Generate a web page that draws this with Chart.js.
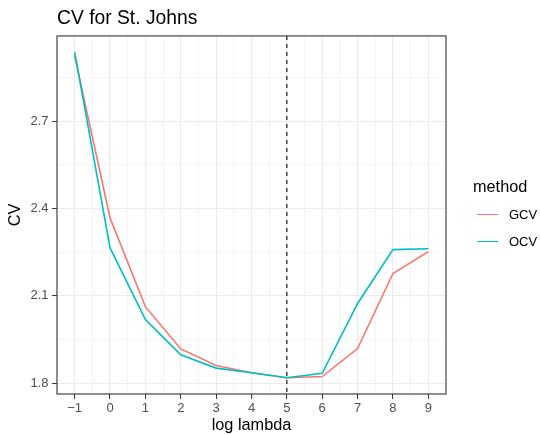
<!DOCTYPE html>
<html>
<head>
<meta charset="utf-8">
<style>
  body { margin: 0; background: #fff; }
  #wrap { position: relative; width: 540px; height: 435px; font-family: "Liberation Sans", Arial, sans-serif; }
  #chart { position: absolute; left: 0; top: 0; }
  #legend { position: absolute; left: 473px; top: 176px; color: #000; }
  #legend .title { font-size: 16.3px; line-height: 20px; margin-bottom: 5px; }
  #legend .item { display: flex; align-items: center; height: 27px; font-size: 13px; }
  #legend .key { width: 21px; height: 1.6px; margin-left: 4px; margin-right: 11px; }
</style>
</head>
<body>
<div id="wrap">
  <canvas id="chart" width="540" height="435"></canvas>
  <div id="legend"></div>
</div>
<script src="https://cdn.jsdelivr.net/npm/chart.js"></script>
<script>
// data
const logLambda = [-1, 0, 1, 2, 3, 4, 5, 6, 7, 8, 9];
const gcv = [2.924, 2.368, 2.063, 1.918, 1.861, 1.836, 1.819, 1.823, 1.919, 2.177, 2.252];
const ocv = [2.937, 2.265, 2.019, 1.898, 1.852, 1.836, 1.819, 1.834, 2.074, 2.259, 2.262];
const methods = ['GCV', 'OCV'];
const methodColors = ['#F8766D', '#00BFC4'];
const xTicks = [-1, 0, 1, 2, 3, 4, 5, 6, 7, 8, 9];
const yTicks = [1.8, 2.1, 2.4, 2.7];
const bestLogLambda = 5;

const FONT = '"Liberation Sans", Arial, sans-serif';
const GRID = '#EBEBEB';
const DARK = '#333333';

// ggplot-like default expansion of 5%
const allY = gcv.concat(ocv);
const yLo = Math.min(...allY), yHi = Math.max(...allY);
const yPad = (yHi - yLo) * 0.05;
const xLo = Math.min(...logLambda), xHi = Math.max(...logLambda);
const xPad = (xHi - xLo) * 0.05;

function withMinor(major, lo, hi) {
  const step = major[1] - major[0];
  const out = [];
  for (let v = major[0] - step; v <= major[major.length - 1] + step + 1e-9; v += step / 2) {
    const r = Math.round(v * 1000) / 1000;
    if (r >= lo - 1e-9 && r <= hi + 1e-9) out.push(r);
  }
  return out;
}
const isMajor = (list, v) => list.some(m => Math.abs(m - v) < 1e-6);

const series = [gcv, ocv];
const datasets = methods.map((m, i) => ({
  label: m,
  data: logLambda.map((x, k) => ({ x: x, y: series[i][k] })),
  borderColor: methodColors[i],
  backgroundColor: methodColors[i],
  borderWidth: 1.6,
  pointRadius: 0,
  tension: 0,
  order: methods.length - i
}));

const panelPlugin = {
  id: 'panel',
  afterDatasetsDraw(chart) {
    const { ctx, chartArea: a, scales } = chart;
    const px = scales.x.getPixelForValue(bestLogLambda);
    ctx.save();
    ctx.strokeStyle = '#000';
    ctx.lineWidth = 1.1;
    ctx.setLineDash([4, 4]);
    ctx.beginPath();
    ctx.moveTo(px, a.top);
    ctx.lineTo(px, a.bottom);
    ctx.stroke();
    ctx.setLineDash([]);
    ctx.strokeStyle = DARK;
    ctx.lineWidth = 1.1;
    ctx.strokeRect(a.left, a.top, a.right - a.left, a.bottom - a.top);
    ctx.restore();
  }
};

new Chart(document.getElementById('chart'), {
  type: 'line',
  data: { datasets: datasets },
  options: {
    responsive: false,
    animation: false,
    devicePixelRatio: 1,
    layout: { padding: { left: 0, right: 94, top: 0, bottom: 0 } },
    plugins: {
      legend: { display: false },
      tooltip: { enabled: false },
      title: {
        display: true,
        text: 'CV for St. Johns',
        align: 'start',
        fullSize: false,
        color: '#000',
        font: { family: FONT, size: 19.3, weight: 'normal' },
        padding: { top: 7, bottom: 5.8 }
      }
    },
    scales: {
      x: {
        type: 'linear',
        min: xLo - xPad,
        max: xHi + xPad,
        afterBuildTicks: s => { s.ticks = withMinor(xTicks, s.min, s.max).map(v => ({ value: v })); },
        afterFit: s => { s.height = 41; },
        border: { display: false },
        grid: {
          color: c => GRID,
          lineWidth: c => isMajor(xTicks, c.tick.value) ? 1.1 : 0.55,
          tickColor: c => isMajor(xTicks, c.tick.value) ? DARK : 'rgba(0,0,0,0)',
          tickLength: 5,
          tickWidth: 1
        },
        ticks: {
          autoSkip: false,
          maxRotation: 0,
          padding: 2,
          color: '#4D4D4D',
          font: { family: FONT, size: 13 },
          callback: v => isMajor(xTicks, v) ? String(v).replace('-', '\u2212') : ''
        },
        title: {
          display: true,
          text: 'log lambda',
          color: '#000',
          font: { family: FONT, size: 16.3 },
          padding: { top: 0, bottom: 0 }
        }
      },
      y: {
        type: 'linear',
        min: yLo - yPad,
        max: yHi + yPad,
        afterBuildTicks: s => { s.ticks = withMinor(yTicks, s.min, s.max).map(v => ({ value: v })); },
        afterFit: s => { s.width = 57; },
        border: { display: false },
        grid: {
          color: c => GRID,
          lineWidth: c => isMajor(yTicks, c.tick.value) ? 1.1 : 0.55,
          tickColor: c => isMajor(yTicks, c.tick.value) ? DARK : 'rgba(0,0,0,0)',
          tickLength: 5,
          tickWidth: 1
        },
        ticks: {
          autoSkip: false,
          padding: 3.5,
          color: '#4D4D4D',
          font: { family: FONT, size: 13 },
          callback: v => isMajor(yTicks, v) ? v.toFixed(1) : ''
        },
        title: {
          display: true,
          text: 'CV',
          color: '#000',
          font: { family: FONT, size: 16.3 },
          padding: { top: 6, bottom: 0 }
        }
      }
    }
  },
  plugins: [panelPlugin]
});

// legend (ggplot style, to the right of the panel)
const legend = document.getElementById('legend');
const lt = document.createElement('div');
lt.className = 'title';
lt.textContent = 'method';
legend.appendChild(lt);
methods.forEach((m, i) => {
  const row = document.createElement('div');
  row.className = 'item';
  const key = document.createElement('span');
  key.className = 'key';
  key.style.background = methodColors[i];
  const label = document.createElement('span');
  label.textContent = m;
  row.appendChild(key);
  row.appendChild(label);
  legend.appendChild(row);
});
</script>
</body>
</html>
